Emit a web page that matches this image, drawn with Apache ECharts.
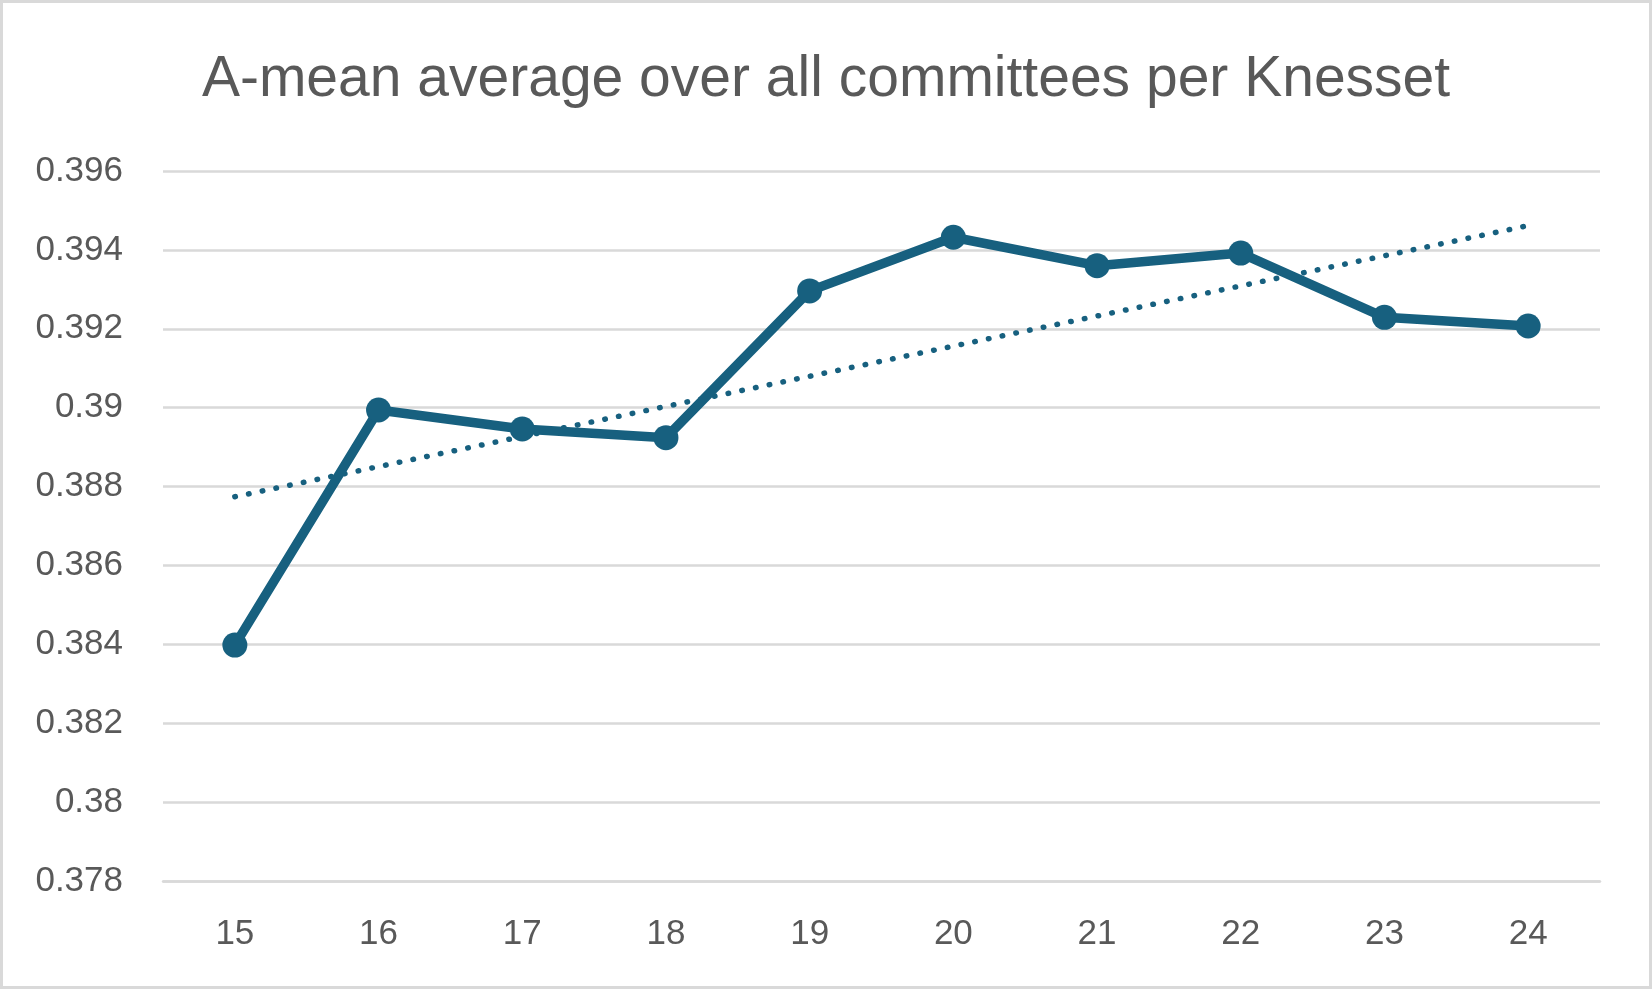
<!DOCTYPE html>
<html>
<head>
<meta charset="utf-8">
<script src="https://cdn.jsdelivr.net/npm/echarts@6/dist/echarts.min.js"></script>
<style>
html,body{margin:0;padding:0;background:#fff;}
#chart{width:1652px;height:989px;}
</style>
</head>
<body>
<div id="chart"></div>
<script>
var titleText = 'A-mean average over all committees per Knesset';
var categories = ['15','16','17','18','19','20','21','22','23','24'];
var amean = [0.38398, 0.38994, 0.38946, 0.38924, 0.39296, 0.39432, 0.39360, 0.39392, 0.39229, 0.39207];
var yTicks = [0.378, 0.380, 0.382, 0.384, 0.386, 0.388, 0.390, 0.392, 0.394, 0.396];

// linear trendline (least squares, as in the source chart)
function linearTrend(vals) {
  var n = vals.length, sx = 0, sy = 0, sxx = 0, sxy = 0;
  for (var i = 0; i < n; i++) { sx += i; sy += vals[i]; sxx += i * i; sxy += i * vals[i]; }
  var b = (n * sxy - sx * sy) / (n * sxx - sx * sx);
  var a = (sy - b * sx) / n;
  return vals.map(function (_, i) { return a + b * i; });
}
var trend = linearTrend(amean);

var lineColor = '#17607F';
var textColor = '#595959';
var chart = echarts.init(document.getElementById('chart'));
chart.setOption({
  backgroundColor: '#ffffff',
  animation: false,
  title: {
    text: titleText,
    left: 'center',
    top: 47,
    textStyle: { fontFamily: "'Liberation Sans',Arial,sans-serif", fontSize: 57, fontWeight: 'normal', color: textColor }
  },
  graphic: [{
    type: 'rect', silent: true, z: 100,
    shape: { x: 1.5, y: 1.5, width: 1649, height: 986 },
    style: { fill: 'none', stroke: '#D9D9D9', lineWidth: 3 }
  }],
  grid: { left: 163, right: 52, top: 171, bottom: 108, containLabel: false },
  xAxis: {
    type: 'category',
    data: categories,
    boundaryGap: true,
    axisLine: { show: true, lineStyle: { color: '#D9D9D9', width: 2.5 } },
    axisTick: { show: false },
    axisLabel: { color: textColor, fontSize: 35, fontFamily: "'Liberation Sans',Arial,sans-serif", margin: 36 }
  },
  yAxis: {
    type: 'value',
    min: yTicks[0],
    max: yTicks[yTicks.length - 1],
    interval: 0.002,
    axisLine: { show: false },
    axisTick: { show: false },
    splitLine: { lineStyle: { color: '#D9D9D9', width: 2.5 } },
    axisLabel: {
      color: textColor, fontSize: 35, fontFamily: "'Liberation Sans',Arial,sans-serif", margin: 40,
      formatter: function (v) { return String(parseFloat(v.toFixed(3))); }
    }
  },
  series: [{
    name: 'A-mean',
    type: 'line',
    data: amean,
    symbol: 'circle',
    symbolSize: 25,
    itemStyle: { color: lineColor },
    lineStyle: { color: lineColor, width: 9.5 },
    z: 3
  }, {
    name: 'Linear trend',
    type: 'line',
    data: trend,
    symbol: 'none',
    lineStyle: { color: lineColor, width: 5.5, type: [0.5, 13.5], cap: 'round' },
    z: 2
  }]
});
</script>
</body>
</html>
